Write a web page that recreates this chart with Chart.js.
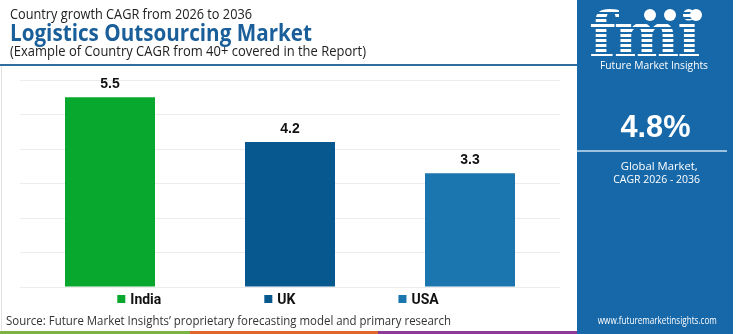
<!DOCTYPE html>
<html>
<head>
<meta charset="utf-8">
<script src="https://cdn.jsdelivr.net/npm/chart.js@4.4.1/dist/chart.umd.min.js"></script>
<style>
  html, body { margin:0; padding:0; background:#fff; }
  body { width:750px; height:334px; position:relative; overflow:hidden; font-family:"Open Sans", "Liberation Sans", sans-serif; }
  .t { position:absolute; white-space:nowrap; transform-origin:left center; line-height:1; }
  #pre { left:10px; top:6px; font-size:15px; color:#222; }
  #title { left:10px; top:21px; font-size:23px; font-weight:700; color:#1a5f99; }
  #sub { left:10px; top:43px; font-size:15px; color:#222; }
  #topline { position:absolute; left:0; top:64px; width:577px; height:2px; background:#2f6e9f; }
  #leftline { position:absolute; left:1px; top:66px; width:1px; height:264px; background:#e2e2e2; }
  #chartbox { position:absolute; left:0; top:66px; width:577px; height:244px; }
  #src { left:6px; top:314px; font-size:13px; color:#333; }
  .stripe { position:absolute; top:331px; height:3px; }
  #panel { position:absolute; left:577px; top:0; width:156px; height:334px; background:#1768a9; }
  .p { position:absolute; white-space:nowrap; color:#fff; line-height:1; }
  .row { position:absolute; left:0; width:156px; text-align:center; color:#fff; line-height:1; white-space:nowrap; }
  .row span { display:inline-block; transform-origin:center center; }
  #logo { left:12px; top:4px; font-family:"DejaVu Serif", serif; font-weight:700; font-size:62px; letter-spacing:-2px;
          background:repeating-linear-gradient(to bottom, #fff 0 3px, transparent 3px 5px);
          -webkit-background-clip:text; background-clip:text; color:transparent; }
  .dot { position:absolute; width:12px; height:12px; border-radius:50%; background:#fff; }
  #fmiName { left:23px; top:59px; font-size:11px; transform-origin:left center; }
  #big { top:110px; font-size:32px; font-weight:700; font-family:"Liberation Sans", sans-serif; }
  #hline { position:absolute; left:0; top:150px; width:150px; height:2px; background:#9cc2e0; }
  #g1 { top:160px; font-size:11.5px; left:4px; }
  #g2 { top:173px; font-size:11.5px; left:2px; }
  #url { top:315px; font-size:10px; left:2px; }
</style>
</head>
<body>
<div class="t" id="pre" data-w="242">Country growth CAGR from 2026 to 2036</div>
<div class="t" id="title" data-w="302">Logistics Outsourcing Market</div>
<div class="t" id="sub" data-w="356">(Example of Country CAGR from 40+ covered in the Report)</div>
<div id="topline"></div>
<div id="leftline"></div>
<div id="chartbox"><canvas id="c"></canvas></div>
<div class="t" id="src" data-w="445">Source: Future Market Insights’ proprietary forecasting model and primary research</div>
<div class="stripe" style="left:0;width:190px;background:#7cb342;"></div>
<div class="stripe" style="left:190px;width:188px;background:#e0662b;"></div>
<div class="stripe" style="left:378px;width:199px;background:#8e3a97;"></div>
<div id="panel">
  <div class="p" id="logo">fmi</div>
  <div class="dot" style="left:67px;top:9px;"></div>
  <div class="dot" style="left:87px;top:9px;"></div>
  <div class="dot" style="left:113px;top:9px;"></div>
  <div class="p" id="fmiName" data-w="108">Future Market Insights</div>
  <div class="row" id="big"><span data-w="70">4.8%</span></div>
  <div id="hline"></div>
  <div class="row" id="g1"><span data-w="77">Global Market,</span></div>
  <div class="row" id="g2"><span data-w="87">CAGR 2026 - 2036</span></div>
  <div class="row" id="url"><span data-w="119">www.futuremarketinsights.com</span></div>
</div>
<script>
  // fit header texts to measured reference widths
  document.querySelectorAll('[data-w]').forEach(el => {
    const w = el.getBoundingClientRect().width;
    const target = parseFloat(el.dataset.w);
    el.style.transform = 'scaleX(' + (target / w) + ')';
  });

  const categories = ['India', 'UK', 'USA'];
  const cagrValues = [5.5, 4.2, 3.3];
  const barColors = ['#08a82e', '#07588f', '#1b75ae'];
  const yTicks = { min: 0, max: 6, step: 1 };

  const valueLabels = {
    id: 'valueLabels',
    afterDatasetsDraw(chart) {
      const ctx = chart.ctx;
      const meta = chart.getDatasetMeta(0);
      ctx.save();
      ctx.font = 'bold 14px "Liberation Sans", Arial, sans-serif';
      ctx.fillStyle = '#111';
      ctx.textAlign = 'center';
      ctx.textBaseline = 'bottom';
      meta.data.forEach((bar, i) => {
        ctx.fillText(cagrValues[i].toFixed(1), bar.x, bar.y - 6);
      });
      ctx.restore();
    }
  };

  const customLegend = {
    id: 'customLegend',
    afterDraw(chart) {
      const ctx = chart.ctx;
      const ca = chart.chartArea;
      ctx.save();
      ctx.font = 'bold 14px Roboto, "Liberation Sans", sans-serif';
      ctx.textBaseline = 'middle';
      const box = 8, gapText = 5, gapItem = 103;
      const widths = categories.map(c => box + gapText + ctx.measureText(c).width);
      const total = widths.reduce((a, b) => a + b, 0) + gapItem * (categories.length - 1);
      const centerX = ca.left + 258;
      let x = centerX - total / 2;
      const y = ca.bottom + 12;
      categories.forEach((c, i) => {
        ctx.fillStyle = barColors[i];
        ctx.fillRect(x, y - box / 2, box, box);
        ctx.fillStyle = '#111';
        ctx.fillText(c, x + box + gapText, y + 1);
        x += widths[i] + gapItem;
      });
      ctx.restore();
    }
  };

  new Chart(document.getElementById('c'), {
    type: 'bar',
    data: {
      labels: categories,
      datasets: [{
        data: cagrValues,
        backgroundColor: barColors,
        borderWidth: 0,
        categoryPercentage: 1.0,
        barPercentage: 0.5
      }]
    },
    options: {
      responsive: true,
      maintainAspectRatio: false,
      animation: false,
      layout: { padding: { left: 20, right: 17, top: 14, bottom: 23 } },
      plugins: { legend: { display: false }, tooltip: { enabled: false } },
      scales: {
        x: { display: false },
        y: {
          min: yTicks.min, max: yTicks.max,
          ticks: { stepSize: yTicks.step, display: false },
          border: { display: false },
          grid: { color: '#ececec', lineWidth: 1, drawTicks: false },
          afterFit(s) { s.width = 0; }
        }
      }
    },
    plugins: [valueLabels, customLegend]
  });
</script>
</body>
</html>
